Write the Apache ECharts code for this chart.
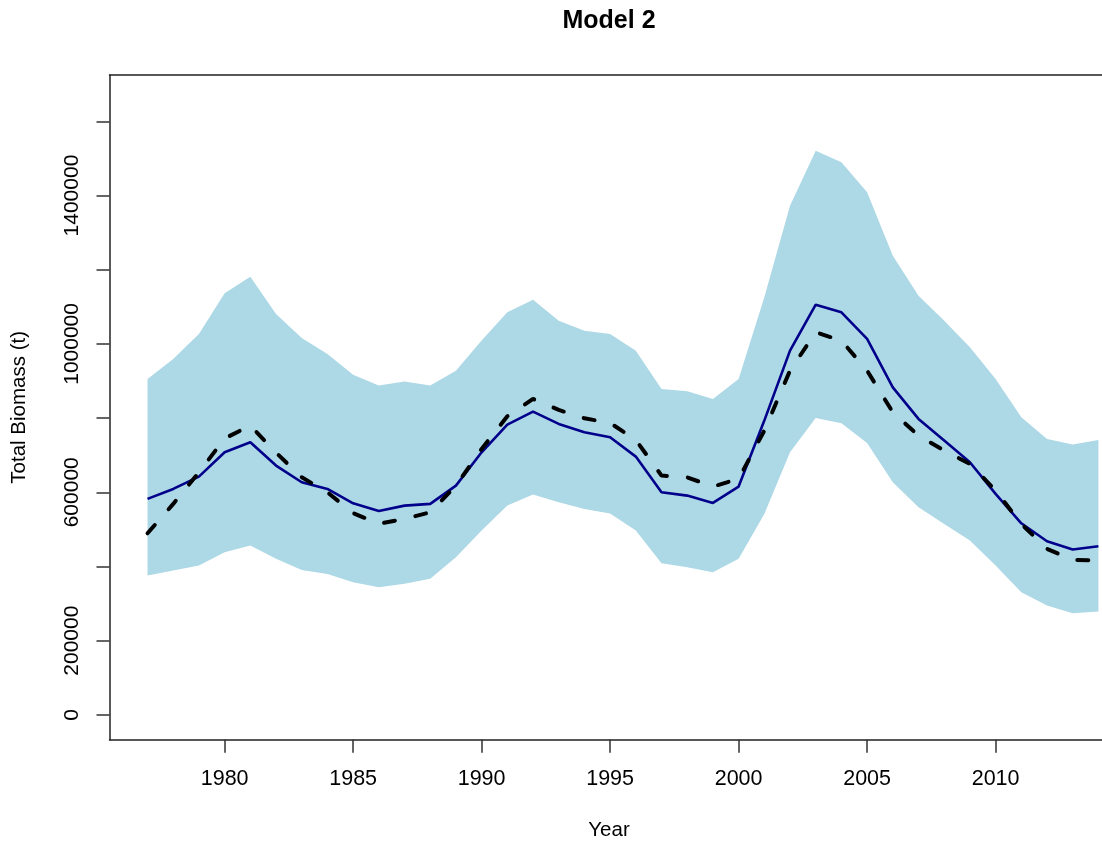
<!DOCTYPE html>
<html>
<head>
<meta charset="utf-8">
<title>Model 2</title>
<script src="https://cdn.jsdelivr.net/npm/echarts@6/dist/echarts.min.js"></script>
<style>
  html, body { margin: 0; padding: 0; background: #ffffff; }
  #chart { width: 1102px; height: 844px; }
</style>
</head>
<body>
<div id="chart"></div>
<script>
// ---- data ----
const years = [1977,1978,1979,1980,1981,1982,1983,1984,1985,1986,1987,1988,1989,1990,1991,1992,1993,1994,1995,1996,1997,1998,1999,2000,2001,2002,2003,2004,2005,2006,2007,2008,2009,2010,2011,2012,2013,2014];

const upperCI = [905700,959600,1027000,1136400,1181400,1080900,1016200,973000,917200,887600,898400,887600,928000,1008900,1085200,1119400,1062800,1035800,1027000,981900,878700,872200,851700,905700,1125600,1372800,1521000,1489500,1408600,1238000,1130200,1062800,990800,905700,802100,744000,728600,741200];

const lowerCI = [375500,389000,402400,438300,456300,420500,390800,380000,357400,344000,353100,366600,424800,496800,564100,593800,573000,555200,543000,496800,408600,397800,384400,420500,541800,707800,800500,786000,733000,627000,559600,514800,469800,402400,330500,294600,273900,278400];

const modelEstimate = [582200,609100,642300,707800,734800,672000,627000,609100,570400,549700,564100,568700,618000,707800,782500,817500,784300,761700,748200,696200,600000,591100,571400,615400,793300,981900,1105900,1085200,1013500,883000,797800,739400,680900,595700,516400,467900,445600,454400];

const dashedEstimate = [489500,568700,653900,745000,780000,707000,640400,600000,544000,515000,528300,546000,618000,717000,804900,851700,822100,799500,787000,741200,645000,640400,615400,636100,766300,928000,1031300,1008900,928000,815700,752800,712400,676500,604600,514800,447400,417800,415900];

const yTickValues = [0,200000,400000,600000,800000,1000000,1200000,1400000,1600000];
const yLabelValues = [0,200000,600000,1000000,1400000];
const xTickValues = [1980,1985,1990,1995,2000,2005,2010];

const titleText = 'Model 2';
const xName = 'Year';
const yName = 'Total Biomass (t)';

// ---- build series data from arrays ----
const pairs = (vals) => years.map((y, i) => [y, vals[i]]);
const bandData = years.map((y, i) => [y, lowerCI[i], upperCI[i]]);

const FONT = '"Liberation Sans", Arial, Helvetica, sans-serif';
const AXIS_COLOR = '#222';

const chart = echarts.init(document.getElementById('chart'), null, { renderer: 'canvas' });

chart.setOption({
  animation: false,
  backgroundColor: '#ffffff',
  title: [
    {
      text: titleText,
      left: 609,
      top: 9,
      padding: 0,
      textAlign: 'center',
      textStyle: { fontFamily: FONT, fontSize: 25, fontWeight: 'bold', color: '#000' }
    },
    {
      text: xName,
      left: 609,
      top: 820,
      padding: 0,
      textAlign: 'center',
      textStyle: { fontFamily: FONT, fontSize: 20.5, fontWeight: 'normal', color: '#000' }
    }
  ],
  grid: {
    left: 109.5,
    right: 0,
    top: 75,
    bottom: 104.3,
    show: false,
    containLabel: false
  },
  xAxis: [
    {
      type: 'value',
      position: 'bottom',
      min: 1975.52,
      max: 2014.14,
      splitLine: { show: false },
      axisLine: { show: true, onZero: false, lineStyle: { color: AXIS_COLOR, width: 1.5 } },
      axisTick: {
        show: true, inside: false, length: 13,
        lineStyle: { color: '#333', width: 1.5 },
        customValues: xTickValues
      },
      axisLabel: {
        show: true, margin: 28,
        fontFamily: FONT, fontSize: 21.5, color: '#000',
        customValues: xTickValues,
        formatter: (v) => String(v)
      }
    },
    {
      type: 'value',
      position: 'top',
      min: 1975.52,
      max: 2014.14,
      splitLine: { show: false },
      axisLine: { show: true, onZero: false, lineStyle: { color: AXIS_COLOR, width: 1.5 } },
      axisTick: { show: false },
      axisLabel: { show: false }
    }
  ],
  yAxis: {
    type: 'value',
    min: -67000,
    max: 1725000,
    name: yName,
    nameLocation: 'middle',
    nameGap: 80,
    nameRotate: 90,
    nameTextStyle: { fontFamily: FONT, fontSize: 20.5, color: '#000' },
    splitLine: { show: false },
    axisLine: { show: true, onZero: false, lineStyle: { color: AXIS_COLOR, width: 1.5 } },
    axisTick: {
      show: true, inside: false, length: 13,
      lineStyle: { color: '#333', width: 1.5 },
      customValues: yTickValues
    },
    axisLabel: {
      show: true, margin: 27, rotate: 90,
      fontFamily: FONT, fontSize: 21, color: '#000',
      customValues: yLabelValues,
      formatter: (v) => String(v)
    }
  },
  series: [
    {
      name: 'CI band',
      type: 'custom',
      xAxisIndex: 0,
      data: bandData,
      encode: { x: 0, y: [1, 2] },
      silent: true,
      z: 1,
      renderItem: function (params, api) {
        if (params.dataIndex !== 0) return null;
        const pts = [];
        for (let i = 0; i < years.length; i++) pts.push(api.coord([years[i], upperCI[i]]));
        for (let i = years.length - 1; i >= 0; i--) pts.push(api.coord([years[i], lowerCI[i]]));
        return {
          type: 'polygon',
          shape: { points: pts },
          style: { fill: '#ADD8E6', stroke: null }
        };
      }
    },
    {
      name: 'Estimate',
      type: 'line',
      xAxisIndex: 0,
      data: pairs(modelEstimate),
      symbol: 'none',
      lineStyle: { color: '#00008B', width: 2.6 },
      z: 3
    },
    {
      name: 'Alternative',
      type: 'line',
      xAxisIndex: 0,
      data: pairs(dashedEstimate),
      symbol: 'none',
      lineStyle: { color: '#000000', width: 4, type: [11, 21], cap: 'round' },
      z: 4
    }
  ]
});
</script>
</body>
</html>
